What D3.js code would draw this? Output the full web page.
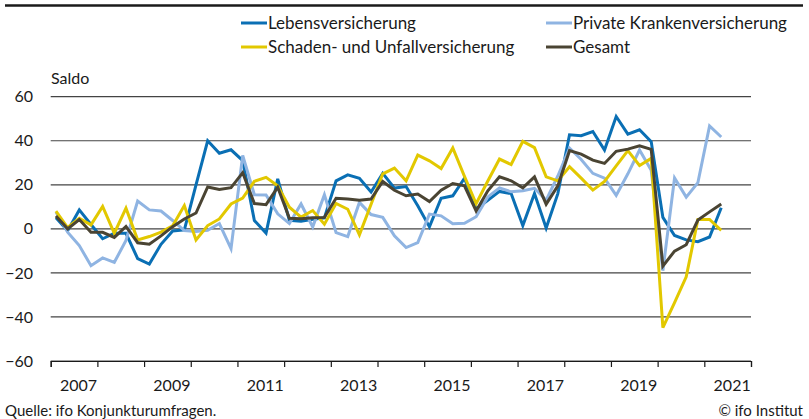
<!DOCTYPE html>
<html>
<head>
<meta charset="utf-8">
<script src="https://cdn.jsdelivr.net/npm/d3@7"></script>
<style>
    body { margin: 0; background: #fff; }
    svg { display: block; font-family: Lato, "Open Sans", sans-serif; }
</style>
</head>
<body>
<svg id="chart" width="809" height="419"></svg>
<script>
// Quartalswerte 2007 Q1 bis 2021 Q2
const firstYear = 2007;
const lastYear = 2021;
const tickYears = [2007, 2009, 2011, 2013, 2015, 2017, 2019, 2021];
const yTicks = [-60, -40, -20, 0, 20, 40, 60];

const lebens = [5, -0.8, 8.6, 2, -4.5, -2, -2, -13.5, -16, -7,
    -1, -0.5, 20, 40, 34.3, 35.9, 31, 3.8, -1.9, 22.7,
    3.9, 3.5, 4.3, 5, 21.8, 24.5, 23, 16.7, 25.2, 18.5,
    19.2, 10.5, 0.9, 13.9, 15, 23, 9, 13, 17, 16,
    1.5, 16, 0.4, 16, 42.7, 42.3, 44.2, 35.8, 51, 43,
    45, 39.6, 5.2, -3, -5, -5.8, -3.7, 9.6];

const kranken = [7.6, -1.5, -7.6, -16.7, -13.2, -15.2, -5.3, 12.6, 8.6, 8.1,
    3.8, -0.8, -1.2, -0.7, 2.4, -9, 33.3, 15.5, 15.4, 6.8,
    2.4, 11.3, 0.9, 15.5, -1.7, -3.5, 12, 6.5, 5.2, -3.2,
    -8.5, -6.2, 6.7, 5.9, 2.3, 2.5, 5.5, 14.5, 18.6, 16.8,
    17.3, 18.4, 13, 24, 36.7, 31.5, 25.2, 23, 15.2, 25,
    35.8, 26.6, -19, 23.1, 14.4, 21, 46.7, 41.7];

const schaden = [8, 0.6, 4.8, 1.8, 10.2, -2, 9.4, -5, -3.5, -1.5,
    1.4, 10.6, -5, 1.5, 4.5, 11.3, 14, 21.6, 23.4, 19.6,
    9.8, 5.3, 8.3, 2.1, 11.5, 8.9, -2.7, 11.2, 25, 27.6,
    21.8, 33.5, 30.9, 27.4, 36.7, 23.8, 11.4, 21.7, 31.7, 29.2,
    39.7, 36.9, 23.6, 21.8, 28.2, 23, 17.6, 21.5, 28.6, 35.5,
    28.8, 32, -44.9, -33.5, -21.8, 4.3, 4.3, -0.7];

const gesamt = [5.8, 0, 4.2, -1.6, -1.6, -3.9, 1.1, -6.3, -7, -3.2,
    1, 4.5, 7.2, 19, 17.9, 18.7, 25.5, 11.5, 11, 18.9,
    4.8, 4.6, 5, 5.2, 13.9, 13.5, 13, 13.5, 21.5, 17.5,
    15, 15.8, 12.4, 17.6, 20.6, 19.5, 8.1, 17.3, 23.6, 21.8,
    18.6, 23.6, 11.2, 19.5, 35.5, 33.9, 31.2, 29.7, 35.2, 36.2,
    37.7, 36.1, -16.9, -10.1, -7.2, 4, 7.7, 11.3];

const series = [
    { name: 'Lebensversicherung', values: lebens, color: '#0a6fb4' },
    { name: 'Private Krankenversicherung', values: kranken, color: '#8fb4e2' },
    { name: 'Schaden- und Unfallversicherung', values: schaden, color: '#e2c800' },
    { name: 'Gesamt', values: gesamt, color: '#4a4433' }
];

const svg = d3.select('#chart');
const textColor = '#1a1a1a';

// Zeitachse in Jahren, Punkte in Quartalsmitte
const x = d3.scaleLinear()
    .domain([firstYear, lastYear + 1])
    .range([50.7, 751]);
const y = d3.scaleLinear()
    .domain([-60, 60])
    .range([361, 96.7]);

const quarterTime = i => firstYear + (i + 0.45) / 4;

// obere Linie
svg.append('line')
    .attr('x1', 5).attr('x2', 803)
    .attr('y1', 5.5).attr('y2', 5.5)
    .attr('stroke', '#1a1a1a')
    .attr('stroke-width', 2.5);

// Gitterlinien
svg.append('g')
    .selectAll('line')
    .data(yTicks)
    .enter()
    .append('line')
    .attr('x1', x(firstYear))
    .attr('x2', x(lastYear + 1))
    .attr('y1', d => y(d))
    .attr('y2', d => y(d))
    .attr('stroke', '#444')
    .attr('stroke-width', 1.2);

// y-Beschriftung
svg.append('g')
    .selectAll('text')
    .data(yTicks)
    .enter()
    .append('text')
    .attr('x', 33)
    .attr('y', d => y(d))
    .attr('dy', '0.35em')
    .attr('text-anchor', 'end')
    .style('font-size', '16px')
    .attr('fill', textColor)
    .text(d => d < 0 ? '\u2212' + Math.abs(d) : d);

svg.append('text')
    .attr('x', 51)
    .attr('y', 84)
    .style('font-size', '16px')
    .attr('fill', textColor)
    .text('Saldo');

// x-Achse
const xAxis = d3.axisBottom(x)
    .tickValues(d3.range(firstYear, lastYear + 2))
    .tickSize(6)
    .tickFormat('');
const axisG = svg.append('g')
    .attr('transform', `translate(0,${y(-60)})`)
    .call(xAxis);
axisG.select('.domain').attr('stroke', '#1a1a1a').attr('stroke-width', 1.2);
axisG.selectAll('.tick line').attr('stroke', '#1a1a1a').attr('stroke-width', 1.2);

svg.append('g')
    .selectAll('text')
    .data(tickYears)
    .enter()
    .append('text')
    .attr('x', d => x(d + 0.5) + 4.5)
    .attr('y', 391)
    .attr('text-anchor', 'middle')
    .style('font-size', '16px')
    .attr('fill', textColor)
    .text(d => d);

// Linien
const line = d3.line()
    .x((d, i) => x(quarterTime(i)))
    .y(d => y(d));

svg.append('g')
    .selectAll('path')
    .data(series)
    .enter()
    .append('path')
    .attr('d', d => line(d.values))
    .attr('fill', 'none')
    .attr('stroke', d => d.color)
    .attr('stroke-width', 3)
    .attr('stroke-linejoin', 'miter');

// Legende
const legendPos = [
    { x: 241, y: 23 }, { x: 546, y: 23 },
    { x: 241, y: 47 }, { x: 546, y: 47 }
];
const legend = svg.append('g')
    .selectAll('g')
    .data(series)
    .enter()
    .append('g')
    .attr('transform', (d, i) => `translate(${legendPos[i].x},${legendPos[i].y})`);
legend.append('line')
    .attr('x1', 0).attr('x2', 26)
    .attr('y1', 0).attr('y2', 0)
    .attr('stroke', d => d.color)
    .attr('stroke-width', 3);
legend.append('text')
    .attr('x', 27)
    .attr('dy', '0.35em')
    .style('font-size', '17px')
    .attr('fill', textColor)
    .text(d => d.name);

// Quelle
svg.append('text')
    .attr('x', 5)
    .attr('y', 416)
    .style('font-size', '15px')
    .attr('fill', textColor)
    .text('Quelle: ifo Konjunkturumfragen.');
svg.append('text')
    .attr('x', 803)
    .attr('y', 416)
    .attr('text-anchor', 'end')
    .style('font-size', '15px')
    .attr('fill', textColor)
    .text('\u00a9 ifo Institut');
</script>
</body>
</html>
